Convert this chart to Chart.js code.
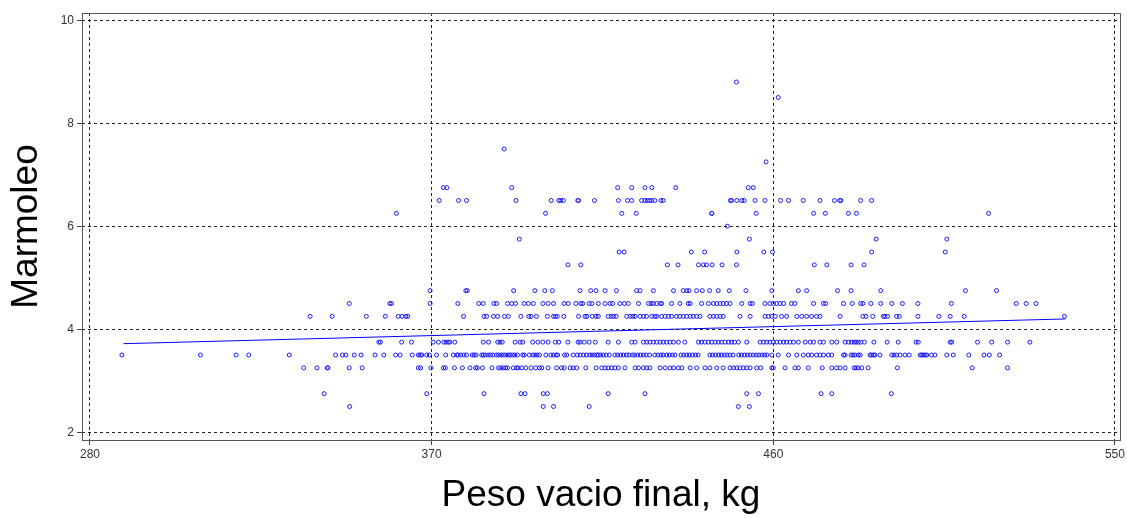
<!DOCTYPE html>
<html>
<head>
<meta charset="utf-8">
<script src="https://cdn.jsdelivr.net/npm/chart.js@4/dist/chart.umd.min.js"></script>
<style>
  html, body { margin: 0; padding: 0; background: #fff; }
  #wrap { width: 1127px; height: 518px; }
</style>
</head>
<body>
<div id="wrap"><canvas id="marmoleoChart" width="1127" height="518"></canvas></div>
<script>
'use strict';

// peso vacio final (kg) for each marmoleo score
const row250 = [348.4, 399.4, 402.1, 411.5, 450.8, 453.7];
const row275 = [341.7, 368.7, 383.8, 393.5, 394.6, 399.4, 400.5, 416.5, 426.2, 453.0, 456.1, 472.6, 475.4, 491.1];
const row325 = [336.3, 339.8, 342.5, 342.7, 348.3, 351.7, 366.5, 367.1, 369.8, 373.1, 373.6, 376.0, 378.1, 380.1,
  381.6, 382.0, 383.4, 385.9, 387.6, 388.2, 388.9, 389.5, 390.0, 391.5, 392.4, 392.8, 393.7, 394.8, 396.2, 397.4,
  398.4, 399.0, 400.7, 402.9, 404.2, 404.9, 406.5, 407.3, 408.2, 410.6, 413.3, 414.8, 415.7, 416.5, 417.4, 418.3,
  419.2, 420.9, 423.6, 424.5, 425.8, 426.7, 427.5, 430.2, 431.5, 432.8, 433.7, 435.0, 435.9, 438.1, 439.8, 442.0,
  443.3, 445.1, 446.8, 448.6, 449.5, 450.4, 451.2, 452.1, 453.0, 453.9, 455.6, 456.7, 459.6, 460.0, 463.1, 465.7,
  466.6, 469.2, 472.9, 475.4, 476.7, 477.6, 478.9, 481.3, 481.8, 482.4, 483.3, 485.0, 492.7, 512.4, 521.7];
const row350 = [288.4, 309.1, 318.5, 321.8, 332.5, 344.7, 346.5, 347.4, 349.6, 351.4, 355.1, 357.4, 360.5, 361.7,
  364.9, 366.5, 367.0, 367.4, 368.7, 369.4, 371.3, 373.7, 375.7, 376.6, 377.0, 377.7, 378.5, 379.2, 380.7, 381.2,
  381.7, 383.2, 383.6, 384.1, 384.9, 385.5, 386.1, 387.1, 387.6, 388.3, 388.9, 389.5, 390.2, 390.7, 391.3, 391.9,
  392.6, 394.0, 394.4, 395.7, 396.6, 397.2, 397.8, 398.4, 400.1, 401.4, 402.1, 402.8, 403.2, 405.0, 405.6, 407.3,
  408.4, 409.1, 410.0, 410.8, 411.7, 412.3, 412.9, 413.5, 413.9, 414.5, 415.2, 416.0, 416.8, 418.3, 419.0, 419.8,
  420.5, 421.3, 422.0, 422.9, 423.5, 424.3, 425.0, 425.8, 426.5, 427.4, 428.8, 429.6, 430.4, 431.0, 431.9, 432.6,
  433.4, 434.1, 435.7, 436.4, 437.2, 437.9, 438.7, 439.5, 440.2, 443.3, 444.0, 444.8, 445.6, 446.3, 447.1, 447.8,
  448.6, 449.4, 450.9, 451.6, 452.4, 453.2, 453.9, 454.7, 455.5, 456.2, 457.0, 457.7, 458.3, 459.6, 461.3, 464.0,
  466.2, 467.9, 469.2, 470.1, 471.4, 472.3, 473.2, 474.5, 475.4, 478.5, 478.9, 480.5, 481.0, 481.5, 482.4, 482.9,
  485.5, 485.9, 486.4, 486.8, 488.1, 491.2, 491.8, 492.5, 493.4, 494.7, 495.8, 498.7, 499.1, 499.5, 500.0, 500.4,
  501.7, 502.6, 505.7, 507.4, 511.5, 515.5, 516.9, 519.6];
const row375 = [356.1, 356.5, 362.1, 364.7, 370.4, 371.8, 373.2, 373.8, 374.4, 374.8, 376.1, 383.6, 385.0, 387.4,
  388.0, 388.6, 392.0, 393.3, 394.0, 396.6, 398.0, 399.3, 400.7, 402.6, 403.5, 405.9, 408.6, 409.1, 410.2, 411.5,
  413.1, 416.5, 419.2, 422.7, 423.6, 425.8, 426.7, 427.5, 428.4, 429.3, 430.2, 431.0, 431.9, 432.8, 433.7, 435.0,
  436.7, 440.3, 441.1, 442.0, 442.9, 443.8, 444.7, 445.5, 446.4, 447.3, 448.2, 449.0, 449.8, 450.8, 453.0, 456.5,
  457.4, 458.3, 459.1, 460.0, 460.9, 461.8, 462.7, 463.5, 464.4, 465.3, 466.6, 468.4, 469.7, 470.6, 472.3, 473.2,
  475.4, 476.7, 478.9, 479.8, 480.6, 481.3, 481.8, 482.4, 483.0, 484.0, 486.5, 490.0, 492.9, 497.6, 498.2, 506.6,
  507.0, 513.8, 517.5, 521.7, 527.6];
const row425 = [338.0, 343.8, 352.8, 357.8, 361.2, 362.2, 363.2, 363.7, 378.4, 383.8, 384.5, 386.3, 387.4, 389.2,
  390.2, 393.5, 395.6, 396.2, 397.6, 400.5, 402.1, 402.6, 403.1, 404.8, 408.7, 410.4, 410.9, 412.3, 413.3, 413.9,
  416.5, 417.3, 417.9, 418.6, 421.4, 422.3, 423.0, 423.6, 424.9, 425.8, 426.6, 428.0, 428.8, 429.3, 430.6, 431.5,
  432.4, 433.2, 434.5, 435.4, 436.3, 437.2, 438.1, 438.9, 439.8, 440.7, 443.3, 444.2, 445.1, 446.0, 446.8, 451.2,
  453.9, 457.8, 458.7, 459.6, 460.5, 462.2, 463.5, 466.2, 467.5, 468.8, 470.1, 471.4, 472.3, 477.6, 483.6, 484.4,
  486.2, 489.0, 489.4, 490.1, 492.5, 493.2, 498.1, 503.6, 506.6, 510.3, 536.7];
const row450 = [348.3, 359.0, 359.4, 369.6, 376.9, 382.4, 383.6, 386.4, 387.1, 390.0, 391.1, 392.1, 394.4, 395.5,
  396.8, 399.3, 400.7, 402.1, 404.9, 406.0, 408.0, 409.3, 409.8, 411.5, 412.2, 413.9, 415.7, 417.0, 417.7, 419.6,
  420.8, 421.8, 424.5, 427.1, 427.8, 428.4, 429.3, 430.2, 430.6, 433.2, 435.4, 437.6, 438.1, 441.1, 442.9, 444.2,
  445.1, 446.0, 446.8, 447.7, 448.6, 451.7, 453.9, 454.5, 457.8, 459.1, 460.0, 460.9, 461.8, 462.7, 464.8, 465.7,
  470.6, 473.2, 473.8, 478.5, 480.8, 483.0, 483.6, 485.7, 488.3, 491.2, 494.0, 498.1, 506.9, 524.0, 526.6, 529.2];
const row475 = [369.6, 379.0, 379.4, 391.6, 397.2, 399.8, 401.8, 409.1, 411.9, 413.3, 415.7, 418.7, 424.0, 424.9,
  428.4, 433.7, 436.3, 437.2, 437.8, 439.8, 441.3, 443.2, 445.5, 448.4, 452.8, 459.6, 466.6, 468.8, 476.9, 480.5,
  488.3, 510.6, 518.8];
const row525 = [405.9, 409.3, 432.1, 434.9, 440.3, 441.6, 442.4, 443.9, 446.5, 450.3, 470.8, 474.1, 480.5, 483.9];
const row550 = [419.4, 420.7, 438.4, 441.9, 450.4, 457.5, 459.8, 485.9, 505.3];
const row575 = [393.1, 453.7, 487.1, 505.7];
const row600 = [447.9];
const row625 = [360.7, 400.0, 420.1, 423.9, 443.8, 443.8, 455.5, 470.6, 473.7, 479.8, 481.9, 516.7];
const row650 = [372.0, 377.1, 379.2, 392.2, 401.5, 403.5, 404.0, 404.7, 408.5, 408.7, 412.9, 419.2, 421.6, 422.7,
  425.3, 426.2, 426.8, 427.4, 428.0, 428.8, 430.4, 431.0, 448.7, 449.0, 450.4, 451.7, 452.3, 455.2, 457.8, 461.9,
  464.0, 467.9, 472.3, 476.1, 477.5, 477.8, 483.0, 485.9];
const row675 = [373.1, 374.0, 391.1, 419.0, 422.7, 426.2, 428.0, 434.3, 453.4, 454.7];
const row725 = [458.1];
const row750 = [389.1];
const row850 = [461.3];
const row880 = [450.3];

// fitted line ends
const fitX = [288.8, 536.9];
const fitY = [3.72, 4.20];

const xTicks = [280, 370, 460, 550];
const yTicks = [2, 4, 6, 8, 10];

let rows = [
  [2.5, row250], [2.75, row275], [3.25, row325], [3.5, row350], [3.75, row375],
  [4.25, row425], [4.5, row450], [4.75, row475], [5.25, row525], [5.5, row550],
  [5.75, row575], [6.0, row600], [6.25, row625], [6.5, row650], [6.75, row675],
  [7.25, row725], [7.5, row750], [8.5, row850], [8.8, row880],
];

let points = [];
rows.forEach((row) => {
  row[1].forEach((peso) => {
    points.push({x: peso, y: row[0]});
  });
});

let fitLine = fitX.map((x, i) => ({x: x, y: fitY[i]}));

// box round the plot area
let frame = {
  id: 'frame',
  afterDraw(chart) {
    let a = chart.chartArea;
    let ctx = chart.ctx;
    ctx.save();
    ctx.strokeStyle = '#555';
    ctx.lineWidth = 1;
    ctx.strokeRect(Math.round(a.left) + 0.5, Math.round(a.top) + 0.5,
      Math.round(a.right - a.left), Math.round(a.bottom - a.top));
    ctx.restore();
  },
};

let font = 'Liberation Sans, Arial, sans-serif';

let ctx = document.getElementById('marmoleoChart');
let myChart = new Chart(ctx, {
  type: 'scatter',
  data: {
    datasets: [{
      label: 'Marmoleo',
      data: points,
      pointRadius: 2,
      pointBorderWidth: 1,
      pointBackgroundColor: 'rgba(0,0,0,0)',
      borderColor: '#1a1aff',
    }, {
      type: 'line',
      label: 'Ajuste',
      data: fitLine,
      borderColor: '#0000ff',
      borderWidth: 1,
      pointRadius: 0,
      fill: false,
    }],
  },
  options: {
    responsive: false,
    animation: false,
    devicePixelRatio: 1,
    layout: {padding: {top: 13, right: 7, left: 0, bottom: 0}},
    plugins: {legend: {display: false}, tooltip: {enabled: false}},
    scales: {
      x: {
        type: 'linear',
        min: 277.9,
        max: 551.3,
        afterBuildTicks: (s) => { s.ticks = xTicks.map((v) => ({value: v})); },
        afterFit: (s) => { s.height = 78; },
        grid: {color: '#222', lineWidth: 1, tickLength: 5, tickColor: '#444'},
        border: {display: false, dash: [3, 3]},
        ticks: {font: {family: font, size: 12}, color: '#333', padding: 2, maxRotation: 0},
        title: {display: true, text: 'Peso vacio final, kg', color: '#000',
          font: {family: font, size: 37}, padding: {top: 0, bottom: 0}},
      },
      y: {
        min: 1.85,
        max: 10.14,
        afterBuildTicks: (s) => { s.ticks = yTicks.map((v) => ({value: v})); },
        afterFit: (s) => { s.width = 82; },
        grid: {color: '#222', lineWidth: 1, tickLength: 5, tickColor: '#444'},
        border: {display: false, dash: [3, 3]},
        ticks: {font: {family: font, size: 12}, color: '#333', padding: 3},
        title: {display: true, text: 'Marmoleo', color: '#000',
          font: {family: font, size: 37}, padding: {top: 5, bottom: 0}},
      },
    },
  },
  plugins: [frame],
});
</script>
</body>
</html>
